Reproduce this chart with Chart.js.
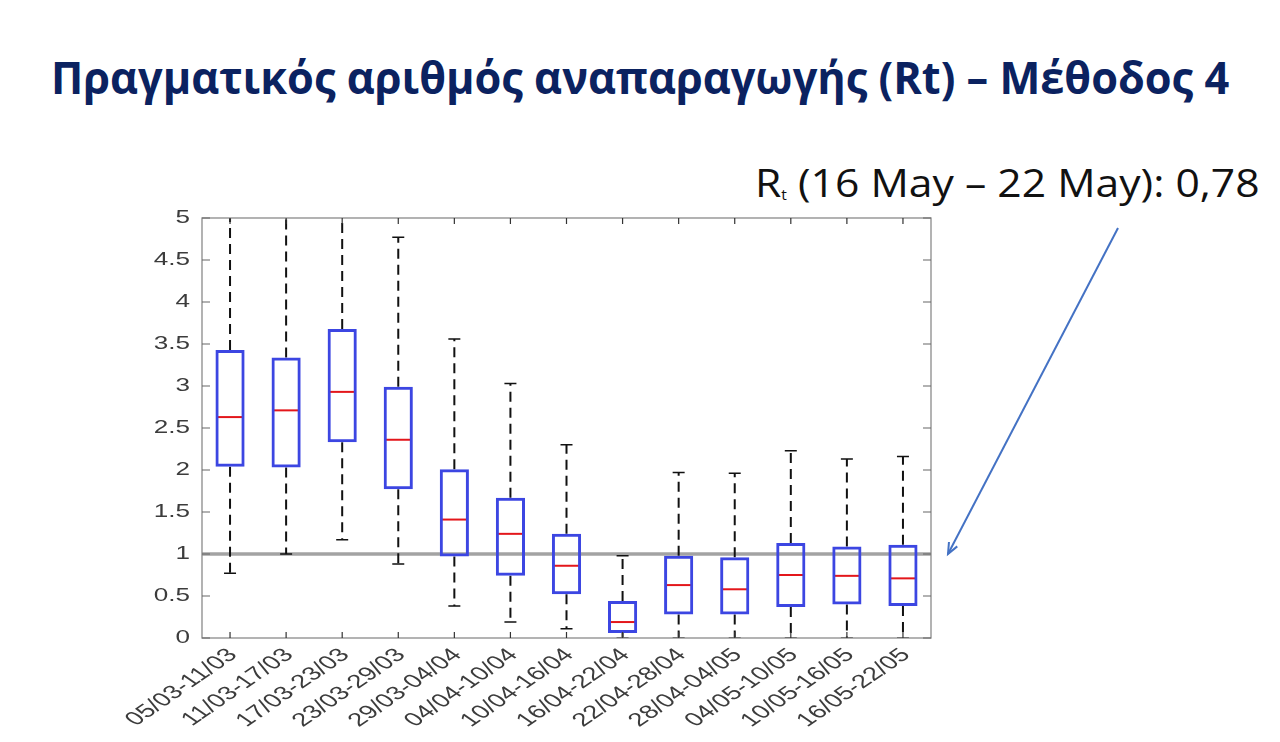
<!DOCTYPE html>
<html>
<head>
<meta charset="utf-8">
<script src="https://cdn.jsdelivr.net/npm/chart.js@4.4.1/dist/chart.umd.min.js"></script>
<style>
  html, body { margin: 0; padding: 0; background: #fff; }
  body { width: 1280px; height: 742px; position: relative; overflow: hidden; }
  #wrap { position: absolute; left: 0; top: 0; width: 1280px; height: 742px; }
  .fit { position: absolute; white-space: nowrap; transform-origin: 0 0; }
  #title { left: 51px; top: 46px; font-family: "Open Sans", sans-serif; font-weight: 700; font-size: 45px; color: #0b2260; }
  #note { left: 755px; top: 156px; font-family: "Open Sans", sans-serif; font-size: 38px; color: #111; }
  #note sub { font-size: 14px; vertical-align: -3px; }
</style>
</head>
<body>
<div id="title" class="fit">Πραγματικός αριθμός αναπαραγωγής (Rt) – Μέθοδος 4</div>
<div id="note" class="fit">R<sub>t</sub> (16 May – 22 May): 0,78</div>
<div id="wrap"><canvas id="rtChart" width="1280" height="742"></canvas></div>

<script>
// weekly windows
const periods = ['05/03-11/03', '11/03-17/03', '17/03-23/03', '23/03-29/03', '29/03-04/04',
  '04/04-10/04', '10/04-16/04', '16/04-22/04', '22/04-28/04', '28/04-04/05',
  '04/05-10/05', '10/05-16/05', '16/05-22/05'];

// box plot stats (first three upper whiskers run off the top)
const whiskerLow  = [0.77, 1.00, 1.17, 0.88, 0.38, 0.19, 0.11, 0.00, 0.00, 0.00, 0.00, 0.00, 0.00];
const q1          = [2.04, 2.03, 2.33, 1.77, 0.97, 0.74, 0.52, 0.06, 0.28, 0.28, 0.37, 0.40, 0.38];
const medians     = [2.63, 2.71, 2.93, 2.36, 1.41, 1.24, 0.86, 0.19, 0.63, 0.58, 0.75, 0.74, 0.71];
const q3          = [3.43, 3.34, 3.68, 2.99, 2.01, 1.67, 1.24, 0.44, 0.98, 0.96, 1.13, 1.09, 1.11];
const whiskerHigh = [5.60, 5.60, 5.60, 4.77, 3.56, 3.03, 2.30, 0.98, 1.97, 1.96, 2.23, 2.13, 2.16];

const yTickLabels = ['0', '0.5', '1', '1.5', '2', '2.5', '3', '3.5', '4', '4.5', '5'];
const refLevel = 1;

// squeeze the two html texts to the width they take on the slide
function fitText(id, w) {
  const el = document.getElementById(id);
  el.style.transform = 'scaleX(' + (w / el.offsetWidth) + ')';
}
fitText('title', 1178);
fitText('note', 505);

const STRETCH = 1.45; // the figure on the slide is stretched sideways

const boxPlotPlugin = {
  id: 'boxPlotExtras',
  beforeDatasetsDraw(chart) {
    const ctx = chart.ctx;
    const xs = chart.scales.x, ys = chart.scales.y;
    const a = chart.chartArea;
    ctx.save();
    ctx.beginPath();
    ctx.rect(a.left, a.top, a.right - a.left, a.bottom - a.top);
    ctx.clip();

    // reference line at Rt = 1
    const y1 = ys.getPixelForValue(refLevel);
    ctx.strokeStyle = '#a3a3a3';
    ctx.lineWidth = 3.5;
    ctx.beginPath();
    ctx.moveTo(a.left, y1);
    ctx.lineTo(a.right, y1);
    ctx.stroke();

    // whiskers
    ctx.strokeStyle = '#111';
    periods.forEach((p, i) => {
      const x = xs.getPixelForValue(i);
      ctx.lineWidth = 2;
      ctx.setLineDash([10, 6]);
      ctx.beginPath();
      ctx.moveTo(x, ys.getPixelForValue(q3[i]));
      ctx.lineTo(x, ys.getPixelForValue(whiskerHigh[i]));
      ctx.moveTo(x, ys.getPixelForValue(q1[i]));
      ctx.lineTo(x, ys.getPixelForValue(whiskerLow[i]));
      ctx.stroke();
      ctx.setLineDash([]);
      ctx.lineWidth = 1.5;
      ctx.beginPath();
      [whiskerHigh[i], whiskerLow[i]].forEach(v => {
        const yy = ys.getPixelForValue(v);
        ctx.moveTo(x - 6, yy);
        ctx.lineTo(x + 6, yy);
      });
      ctx.stroke();
    });
    ctx.restore();
  },
  afterDraw(chart) {
    const ctx = chart.ctx;
    const xs = chart.scales.x, ys = chart.scales.y;
    const a = chart.chartArea;
    ctx.save();

    // frame
    ctx.strokeStyle = '#8a8a8a';
    ctx.lineWidth = 1.3;
    ctx.strokeRect(a.left, a.top, a.right - a.left, a.bottom - a.top);

    // inward ticks
    ctx.strokeStyle = '#666';
    ctx.lineWidth = 1.2;
    ctx.beginPath();
    yTickLabels.forEach(t => {
      const y = ys.getPixelForValue(parseFloat(t));
      ctx.moveTo(a.left, y); ctx.lineTo(a.left + 8, y);
      ctx.moveTo(a.right, y); ctx.lineTo(a.right - 8, y);
    });
    ctx.stroke();
    ctx.strokeStyle = '#333';
    ctx.beginPath();
    periods.forEach((p, i) => {
      const x = xs.getPixelForValue(i);
      ctx.moveTo(x, a.bottom); ctx.lineTo(x, a.bottom - 6);
      ctx.moveTo(x, a.top); ctx.lineTo(x, a.top + 6);
    });
    ctx.stroke();

    // tick labels
    ctx.fillStyle = '#3c3c3c';
    ctx.font = '18px "Liberation Sans", Arial, sans-serif';
    ctx.textAlign = 'right';
    ctx.textBaseline = 'middle';
    yTickLabels.forEach(t => {
      const y = ys.getPixelForValue(parseFloat(t));
      ctx.save();
      ctx.translate(a.left - 12, y);
      ctx.scale(STRETCH, 1);
      ctx.fillText(t, 0, 0);
      ctx.restore();
    });
    ctx.font = '19px "Liberation Sans", Arial, sans-serif';
    periods.forEach((p, i) => {
      const x = xs.getPixelForValue(i);
      ctx.save();
      ctx.translate(x + 3, a.bottom + 14);
      ctx.scale(STRETCH, 1);
      ctx.rotate(-Math.PI / 4);
      ctx.fillText(p, 0, 0);
      ctx.restore();
    });

    // pointer from the note to the last box
    const x0 = 1118, yA = 228;
    const x1 = a.right + 17, yB = ys.getPixelForValue(refLevel);
    ctx.strokeStyle = '#4472c4';
    ctx.lineWidth = 2;
    ctx.beginPath();
    ctx.moveTo(x0, yA);
    ctx.lineTo(x1, yB);
    ctx.stroke();
    const ang = Math.atan2(yB - yA, x1 - x0);
    ctx.beginPath();
    ctx.moveTo(x1 - 12 * Math.cos(ang - 0.4), yB - 12 * Math.sin(ang - 0.4));
    ctx.lineTo(x1, yB);
    ctx.lineTo(x1 - 12 * Math.cos(ang + 0.4), yB - 12 * Math.sin(ang + 0.4));
    ctx.stroke();
    ctx.restore();
  }
};

new Chart(document.getElementById('rtChart'), {
  data: {
    labels: periods,
    datasets: [
      {
        type: 'bar',
        data: q1.map((v, i) => [v, q3[i]]),
        backgroundColor: 'rgba(0,0,0,0)',
        borderColor: '#3c46e2',
        borderWidth: 3,
        borderSkipped: false,
        categoryPercentage: 1,
        barPercentage: 0.52
      },
      {
        type: 'line',
        data: medians,
        showLine: false,
        pointStyle: 'line',
        pointRadius: 13,
        pointHoverRadius: 13,
        pointBorderColor: '#e3161b',
        pointBorderWidth: 2
      }
    ]
  },
  options: {
    responsive: false,
    animation: false,
    layout: { padding: { left: 202, right: 349, top: 218, bottom: 104 } },
    plugins: { legend: { display: false }, tooltip: { enabled: false } },
    scales: {
      x: { type: 'category', offset: true, display: false },
      y: { min: 0, max: 5, display: false }
    }
  },
  plugins: [boxPlotPlugin]
});
</script>
</body>
</html>
